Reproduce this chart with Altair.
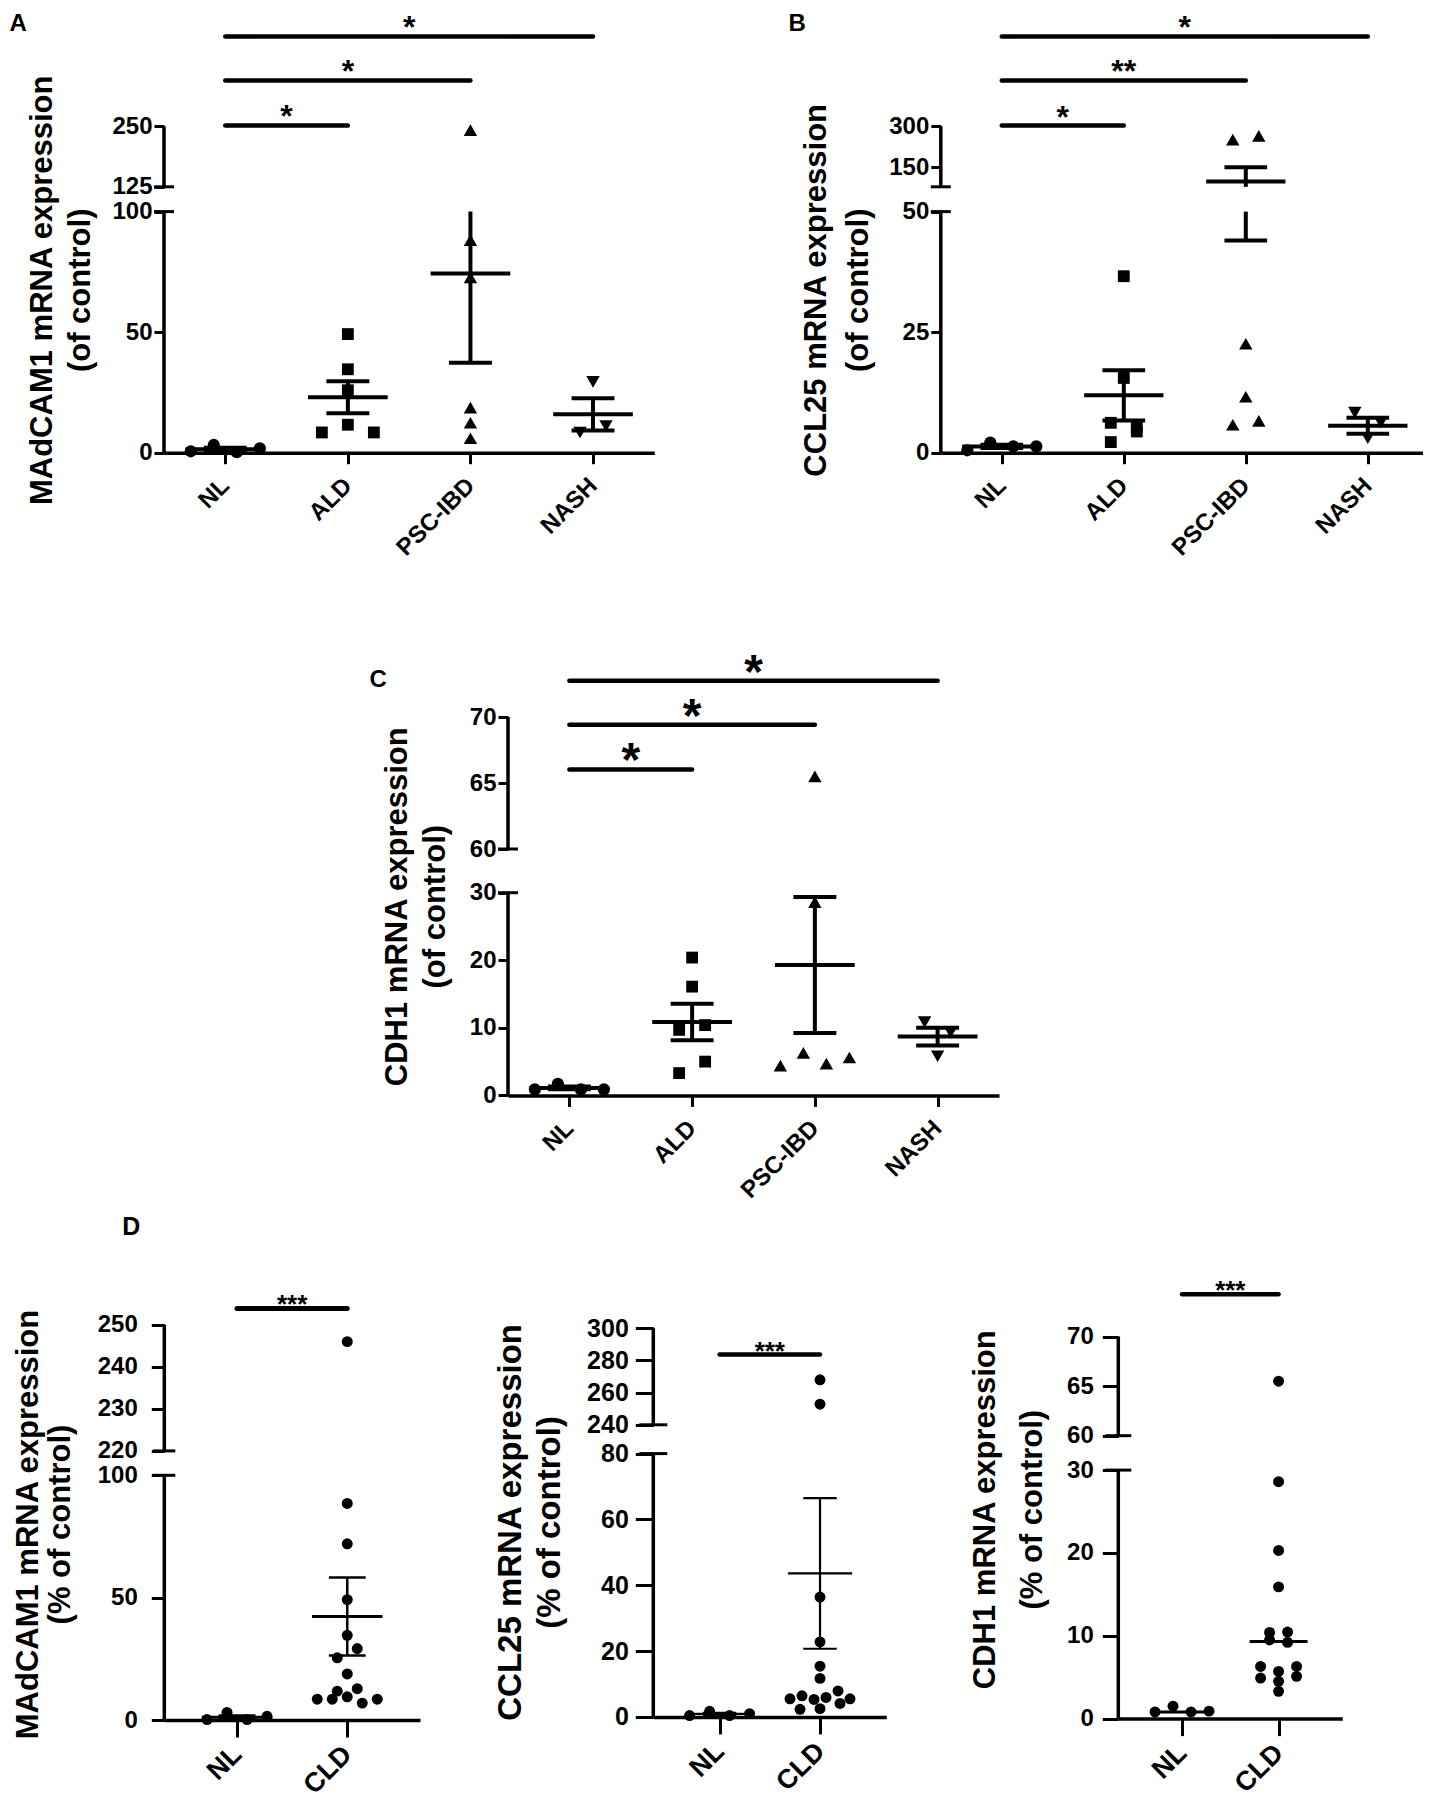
import altair as alt
import pandas as pd

FONT = "Liberation Sans"

# ---------------- values ----------------
cat4 = ["NL", "ALD", "PSC-IBD", "NASH"]
cat2 = ["NL", "CLD"]

# Panel A : MAdCAM1 mRNA expression (of control)
a_nl = [0.6, 3.2, 0.2, 1.8]
a_ald = [49.2, 34.6, 25.9, 8.4, 11.6, 8.4]
a_psc = [242.0, 88.1, 72.7, 18.7, 12.4, 6.0]
a_nash = [8.4, 29.4, 11.1]
a_mean = [1.4, 23.0, 74.3, 15.9]
a_sem = [0.7, 6.6, 37.0, 6.7]
a_sig_to = ["ALD", "PSC-IBD", "NASH"]
a_sig_text = ["*", "*", "*"]
a_sig_level = [251.7, 344.8, 435.7]

# Panel B : CCL25 mRNA expression (of control)
b_nl = [0.5, 2.1, 1.3, 1.3]
b_ald = [36.6, 15.5, 6.2, 5.4, 2.2, 4.4]
b_psc = [251.0, 265.0, 22.6, 11.6, 5.8, 6.6]
b_nash = [8.3, 6.2, 3.0]
b_mean = [1.3, 11.9, 97.0, 5.6]
b_sem = [0.35, 5.2, 53.0, 1.65]
b_sig_to = ["ALD", "PSC-IBD", "NASH"]
b_sig_text = ["*", "**", "*"]
b_sig_level = [302.9, 468.4, 629.9]

# Panel C : CDH1 mRNA expression (of control)
c_nl = [0.9, 1.7, 0.9, 0.9]
c_ald = [20.4, 16.1, 9.7, 10.4, 3.3, 5.0]
c_psc = [65.5, 28.6, 4.4, 6.3, 4.7, 5.6]
c_nash = [10.85, 9.3, 5.8]
c_mean = [1.1, 10.85, 19.3, 8.7]
c_sem = [0.2, 2.7, 10.05, 1.3]
c_sig_to = ["ALD", "PSC-IBD", "NASH"]
c_sig_text = ["*", "*", "*"]
c_sig_level = [66.03, 69.42, 72.74]

# Panel D1 : MAdCAM1 (% of control)
d1_nl = [0.2, 3.1, 0.2, 1.5]
d1_cld = [246.0, 88.5, 72.0, 49.2, 34.6, 25.4, 29.2, 18.8, 11.8, 12.8,
          8.5, 8.5, 9.5, 6.9, 8.5]
d1_mean = [1.1, 42.3]
d1_sem = [0.7, 15.9]
d1_sig_level = [253.9]

# Panel D2 : CCL25 (% of control)
d2_nl = [0.4, 1.7, 0.4, 1.0]
d2_cld = [267.9, 252.8, 36.4, 22.8, 15.4, 11.7, 5.5, 6.4, 5.3, 5.9, 7.9,
          5.5, 2.3, 2.5, 4.1]
d2_mean = [0.9, 43.6]
d2_sem = [0.3, 22.9]
d2_sig_level = [283.6]

# Panel D3 : CDH1 (% of control), median line only
d3_nl = [0.8, 1.5, 0.8, 0.9]
d3_cld = [65.5, 28.6, 20.3, 15.9, 10.4, 10.45, 9.5, 9.2, 6.3, 5.7, 6.3,
          4.9, 4.5, 5.1, 3.3]
d3_median = [0.8, 9.3]
d3_sig_level = [74.27]

# ---------------- canvas ----------------
OFF = 8            # page margin
W, H = 1415, 1785  # one plot area covering the page; panels placed by scale ranges


def row_offsets(vals, ypix, T, S0, maxw):
    """GraphPad-like scatter: values close in pixel height share a row."""
    order = sorted(range(len(vals)), key=lambda i: (vals[i], i))
    rows, cur = [], []
    for i in order:
        if cur and ypix(vals[i]) - ypix(vals[cur[0]]) >= T:
            rows.append(cur)
            cur = []
        cur.append(i)
    if cur:
        rows.append(cur)
    off = [0.0] * len(vals)
    for r in rows:
        r = sorted(r)
        n = len(r)
        s = S0 if n < 2 else min(S0, maxw / (n - 1))
        for k, i in enumerate(r):
            off[i] = (k - (n - 1) / 2) * s
    return off


def build(P):
    cats = P["cats"]
    xdom = P["xdom"]
    x0, x1 = P["xr"][0] - OFF, P["xr"][1] - OFF
    step = (x1 - x0) / (xdom[1] - xdom[0])
    lo_l, hi_l, lo_u, hi_u = P["ydom"]
    yr = [v - OFF for v in P["ypos"]]
    xsc = alt.Scale(domain=xdom, range=[x0, x1], nice=False, zero=False)
    ysc = alt.Scale(domain=list(P["ydom"]), range=yr, nice=False, zero=False)

    def ymap(v):
        if v <= hi_l:
            return yr[0] + (yr[1] - yr[0]) * (v - lo_l) / (hi_l - lo_l)
        return yr[2] + (yr[3] - yr[2]) * (v - lo_u) / (hi_u - lo_u)

    def ypix(v):
        return yr[0] - ymap(v)

    def inside(v):
        return lo_l <= v <= hi_l or lo_u <= v <= hi_u

    # points
    prow = []
    for gi, vals in enumerate(P["values"]):
        offs = row_offsets(vals, ypix, P["T"], P["S0"], P["maxw"])
        shp = P["shapes"][gi]
        for v, o in zip(vals, offs):
            prow.append({"x": gi + o / step, "y": v, "shape": shp, "sz": P["msize"][shp]})
    pts = pd.DataFrame(prow)

    # mean / SEM lines, cut at the axis break
    rrow = []
    for gi, m in enumerate(P["center"]):
        if inside(m):
            rrow.append({"x": gi - P["mh"], "x2": gi + P["mh"], "y": m, "y2": m, "w": P["mw"]})
        if P.get("err"):
            e = P["err"][gi]
            a, b = m - e, m + e
            for lo, hi in ((lo_l, hi_l), (lo_u, hi_u)):
                s, t = max(a, lo), min(b, hi)
                if s < t:
                    rrow.append({"x": gi, "x2": gi, "y": s, "y2": t, "w": P["ew"]})
            for yy in (a, b):
                if inside(yy):
                    rrow.append({"x": gi - P["ch"], "x2": gi + P["ch"], "y": yy, "y2": yy, "w": P["ew"]})
    rules = pd.DataFrame(rrow)

    to, txt, lvl = P["sig"]
    sig = pd.DataFrame({"x": [0] * len(to), "x2": [cats.index(t) for t in to],
                        "y": lvl, "label": txt})

    # axes
    expr = "[" + ",".join("'%s'" % c for c in cats) + "][round(datum.value)]"
    xax = alt.Axis(values=list(range(len(cats))), labelExpr=expr, orient="bottom",
                   offset=yr[0] - H,
                   labelAngle=315, labelAlign="right", labelBaseline="middle",
                   labelPadding=P["xpad"], labelFontSize=P["xfont"],
                   labelFont=FONT, labelFontWeight="bold", labelColor="black",
                   labelOverlap=False, labelFlush=False, labelBound=False,
                   tickSize=P["xtick"], tickWidth=P["tkw"], tickColor="black",
                   domainWidth=P["axw"], domainColor="black", grid=False, title=None)
    # multi-line rotated title: lines stack toward the axis, so shift left by the extra lines
    title_x = P["tx"] - P["tlh"] * (len(P["title"]) - 1)
    yax = alt.Axis(values=P["ticks"], orient="left", offset=-x0, domain=False,
                   labelFontSize=P["yfont"], labelFont=FONT, labelFontWeight="bold",
                   labelColor="black", labelPadding=P["ypad"], labelOverlap=False,
                   labelFlush=False, labelBound=False, tickSize=P["ytick"],
                   tickWidth=P["tkw"], tickColor="black", grid=False,
                   title=P["title"], titleFont=FONT, titleFontWeight="bold",
                   titleColor="black", titleFontSize=P["tfont"],
                   titleLineHeight=P["tlh"], titleX=title_x, titleY=P["ty"] - OFF,
                   titleAngle=270, titleAlign="center", titleBaseline="bottom")
    if P.get("letter"):
        lax = alt.Axis(orient="left", offset=-x0, domain=False, ticks=False,
                       labels=False, grid=False, title=P["letter"], titleFont=FONT,
                       titleFontWeight="bold", titleColor="black",
                       titleFontSize=P["lfont"], titleX=P["lx"], titleY=P["ly"] - OFF,
                       titleAngle=0, titleAlign="left", titleBaseline="alphabetic")
    else:
        lax = None

    Xn = alt.X("x:Q", scale=xsc, axis=None)
    Yn = alt.Y("y:Q", scale=ysc, axis=None)

    dom_rows = pd.DataFrame({"x": [xdom[0], xdom[0]], "y": [lo_l, lo_u], "y2": [hi_l, hi_u]})
    brk_rows = pd.DataFrame({"x": [xdom[0], xdom[0]], "y": [hi_l, lo_u]})

    layers = [
        alt.Chart(dom_rows).mark_rule(color="black", strokeWidth=P["axw"]).encode(
            x=alt.X("x:Q", scale=xsc, axis=xax),
            y=alt.Y("y:Q", scale=ysc, axis=yax), y2="y2:Q"),
        alt.Chart(brk_rows).mark_tick(orient="horizontal", size=P["brk"],
                                      thickness=P["tkw"], color="black",
                                      opacity=1).encode(x=Xn, y=Yn),
        alt.Chart(rules).mark_rule(color="black", strokeCap="butt").encode(
            x=Xn, x2="x2:Q", y=Yn, y2="y2:Q",
            strokeWidth=alt.StrokeWidth("w:Q", scale=None)),
        alt.Chart(pts).mark_point(filled=True, color="black", opacity=1,
                                  strokeWidth=0).encode(
            x=Xn, y=Yn, shape=alt.Shape("shape:N", scale=None),
            size=alt.Size("sz:Q", scale=None)),
        alt.Chart(sig).mark_rule(color="black", strokeWidth=P["sw"],
                                 strokeCap="round").encode(
            x=Xn, x2="x2:Q", y=alt.Y("y:Q", scale=ysc, axis=lax)),
        alt.Chart(sig).transform_calculate(xm="(datum.x + datum.x2) / 2").mark_text(
            font=FONT, fontWeight="bold", fontSize=P["sfont"], color="black",
            align="center", baseline="alphabetic", dy=P["sdy"]).encode(
            x=alt.X("xm:Q", scale=xsc, axis=None), y=Yn, text="label:N"),
    ]
    return layers


base_abc = dict(
    cats=cat4, shapes=["circle", "square", "triangle-up", "triangle-down"],
    xdom=[-0.5, 3.5], tfont=31, tlh=38, lfont=24,
    yfont=24, ytick=10, ypad=2, xfont=24, xtick=11, xpad=18,
    axw=3.5, tkw=3, brk=20,
    msize={"circle": 150, "square": 140, "triangle-up": 180, "triangle-down": 180},
    mh=0.325, ch=0.175, mw=4, ew=4, sw=4.5, sfont=32, sdy=2,
    T=13.5, S0=26, maxw=69,
)

PA = dict(base_abc, values=[a_nl, a_ald, a_psc, a_nash], center=a_mean, err=a_sem,
          sig=(a_sig_to, a_sig_text, a_sig_level),
          xr=[164, 654.3], ydom=[0, 100, 125, 250], ypos=[452.7, 211.6, 186.8, 126.3],
          ticks=[0, 50, 100, 125, 250],
          title=["MAdCAM1 mRNA expression", "(of control)"], tx=-67.5, ty=289.8,
          letter="A", lx=-155, ly=30)

PB = dict(base_abc, values=[b_nl, b_ald, b_psc, b_nash], center=b_mean, err=b_sem,
          sig=(b_sig_to, b_sig_text, b_sig_level),
          xr=[940.8, 1428.8], ydom=[0, 50, 78, 300], ypos=[452.7, 211.6, 186.8, 126.3],
          ticks=[0, 25, 50, 150, 300],
          title=["CCL25 mRNA expression", "(of control)"], tlh=42, tx=-66.8, ty=289.8,
          letter="B", lx=-152.8, ly=30)

PC = dict(base_abc, values=[c_nl, c_ald, c_psc, c_nash], center=c_mean, err=c_sem,
          sig=(c_sig_to, c_sig_text, c_sig_level),
          xr=[508, 999], ydom=[0, 30, 60, 70], ypos=[1095.4, 892.7, 849, 717],
          ticks=[0, 10, 20, 30, 60, 65, 70],
          title=["CDH1 mRNA expression", "(of control)"], tlh=38, tx=-57, ty=906.2,
          letter="C", lx=-139, ly=686.4, sfont=48, sdy=7)

base_d = dict(
    cats=cat2, shapes=["circle", "circle"], xdom=[-0.66, 1.66],
    yfont=24, ytick=13, ypad=14, xfont=27, xtick=17, xpad=13,
    axw=3.5, tkw=3, brk=22, msize={"circle": 120},
    mh=0.32, ch=0.167, mw=3, ew=2.5, sw=5, sfont=26, sdy=5,
    T=9.5, S0=20, maxw=60, lfont=25,
)

PD1 = dict(base_d, values=[d1_nl, d1_cld], center=d1_mean, err=d1_sem,
           sig=(["CLD"], ["***"], d1_sig_level),
           xr=[164.3, 420], ydom=[0, 100, 220, 250], ypos=[1720, 1475.3, 1450.9, 1324.8],
           ticks=[0, 50, 100, 220, 230, 240, 250],
           title=["MAdCAM1 mRNA expression", "(% of control)"],
           tfont=31, tlh=32, tx=-87.6, ty=1524,
           letter="D", lx=-42.6, ly=1234.5)

PD2 = dict(base_d, values=[d2_nl, d2_cld], center=d2_mean, err=d2_sem,
           sig=(["CLD"], ["***"], d2_sig_level),
           xr=[653.3, 886.3], ydom=[0, 80, 240, 300], ypos=[1716.9, 1453.6, 1424.8, 1328.1],
           ticks=[0, 20, 40, 60, 80, 240, 260, 280, 300],
           title=["CCL25 mRNA expression", "(% of control)"],
           tfont=33, tlh=39, tx=-86.6, ty=1521.9, letter=None,
           yfont=25, ytick=18, ypad=7, mw=2.2, ew=2.2, sw=4.5, brk=28)

PD3 = dict(base_d, values=[d3_nl, d3_cld], center=d3_median, err=None,
           sig=(["CLD"], ["***"], d3_sig_level),
           xr=[1118.3, 1342.3], ydom=[0, 30, 60, 70], ypos=[1718.6, 1470.1, 1435.7, 1336.6],
           ticks=[0, 10, 20, 30, 60, 65, 70],
           title=["CDH1 mRNA expression", "(% of control)"],
           tfont=31, tlh=47, tx=-70, ty=1509.2, letter=None,
           yfont=24, ytick=16, ypad=9, mw=3, mh=0.3, sw=4.5, brk=26,
           S0=18, maxw=54)

layers = []
for P in (PA, PB, PC, PD1, PD2, PD3):
    layers += build(P)

chart = alt.layer(*layers).resolve_scale(
    x="independent", y="independent"
).resolve_axis(
    x="independent", y="independent"
).properties(
    width=W, height=H, padding=0, background="white",
).configure(font=FONT).configure_view(stroke=None)

chart.save("out.html", embed_options={"renderer": "svg", "actions": False})
